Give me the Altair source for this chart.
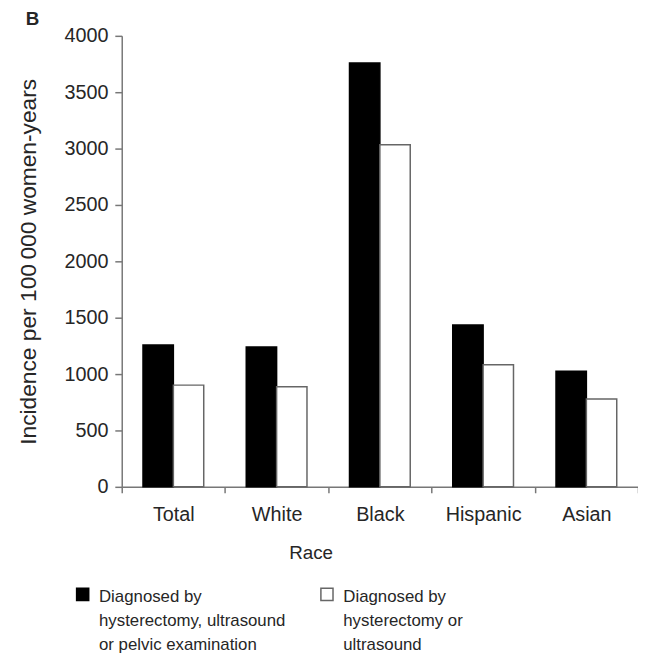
import altair as alt
import pandas as pd

races = ["Total", "White", "Black", "Hispanic", "Asian"]
series_names = [
    "Diagnosed by|hysterectomy, ultrasound|or pelvic examination",
    "Diagnosed by|hysterectomy or|ultrasound",
]
values_all = [1258, 1241, 3760, 1436, 1025]
values_hu = [902, 888, 3033, 1083, 779]
y_ticks = [0, 500, 1000, 1500, 2000, 2500, 3000, 3500, 4000]

rows = []
for r, a, b in zip(races, values_all, values_hu):
    rows.append({"race": r, "series": series_names[0], "value": a})
    rows.append({"race": r, "series": series_names[1], "value": b})
df = pd.DataFrame(rows)

FONT = "Liberation Sans"
TXT = "#262626"
AX = "#777777"
LABEL_DY = -5

chart = alt.Chart(df).mark_bar(strokeWidth=1.5).encode(
    x=alt.X(
        "race:N",
        sort=races,
        scale=alt.Scale(paddingInner=0, paddingOuter=0),
        axis=alt.Axis(
            title="Race",
            labelAngle=0,
            labelFontSize=20,
            labelFont=FONT,
            labelColor=TXT,
            labelPadding=17,
            tickBand="extent",
            tickSize=6,
            tickColor=AX,
            tickWidth=1.5,
            domainColor=AX,
            domainWidth=1.5,
            titleFont=FONT,
            titleFontSize=19,
            titleFontWeight="normal",
            titleColor=TXT,
            titleX=191,
            titleY=72,
            titleAlign="center",
            titleBaseline="alphabetic",
        ),
    ),
    xOffset=alt.XOffset(
        "series:N",
        sort=series_names,
        scale=alt.Scale(paddingInner=0, paddingOuter=0.7),
    ),
    y=alt.Y(
        "value:Q",
        scale=alt.Scale(domain=[0, 4000], nice=False),
        axis=alt.Axis(
            title="Incidence per 100\u2009000 women-years",
            values=y_ticks,
            format="d",
            grid=False,
            labelFontSize=20,
            labelFont=FONT,
            labelColor=TXT,
            labelPadding=7,
            labelOffset=-LABEL_DY,
            tickSize=7,
            tickColor=AX,
            tickWidth=1.5,
            domainColor=AX,
            domainWidth=1.5,
            titleFont=FONT,
            titleFontSize=23,
            titleFontWeight="normal",
            titleColor=TXT,
            titleAngle=-90,
            titleX=-94,
            titleY=228,
            titleAlign="center",
            titleBaseline="middle",
        ),
    ),
    fill=alt.Fill(
        "series:N",
        sort=series_names,
        scale=alt.Scale(domain=series_names, range=["#000000", "#ffffff"]),
        legend=alt.Legend(
            title=None,
            orient="none",
            legendX=-48,
            legendY=556,
            direction="horizontal",
            symbolType="square",
            symbolSize=150,
            symbolStrokeWidth=1.5,
            labelFont=FONT,
            labelFontSize=17,
            labelColor=TXT,
            labelLimit=400,
            labelOffset=8,
            labelBaseline="top",
            columnPadding=32,
            padding=0,
            labelExpr="split(datum.label, '|')",
        ),
    ),
    stroke=alt.Stroke(
        "series:N",
        sort=series_names,
        scale=alt.Scale(domain=series_names, range=["#000000", "#666666"]),
        legend=None,
    ),
).properties(
    width=522,
    height=456,
    autosize=alt.AutoSizeParams(type="none"),
    padding={"left": 115, "top": 24.5, "right": 0, "bottom": 176},
    title=alt.TitleParams(
        text="B",
        anchor="start",
        frame="bounds",
        font=FONT,
        fontSize=19,
        fontWeight="bold",
        color=TXT,
        dx=8,
        dy=3,
        offset=0,
    ),
).configure(
    style={"guide-label": {"lineHeight": 24, "dy": LABEL_DY}}
).configure_view(stroke=None)

chart.save("out.html", embed_options={"renderer": "svg", "actions": False})
